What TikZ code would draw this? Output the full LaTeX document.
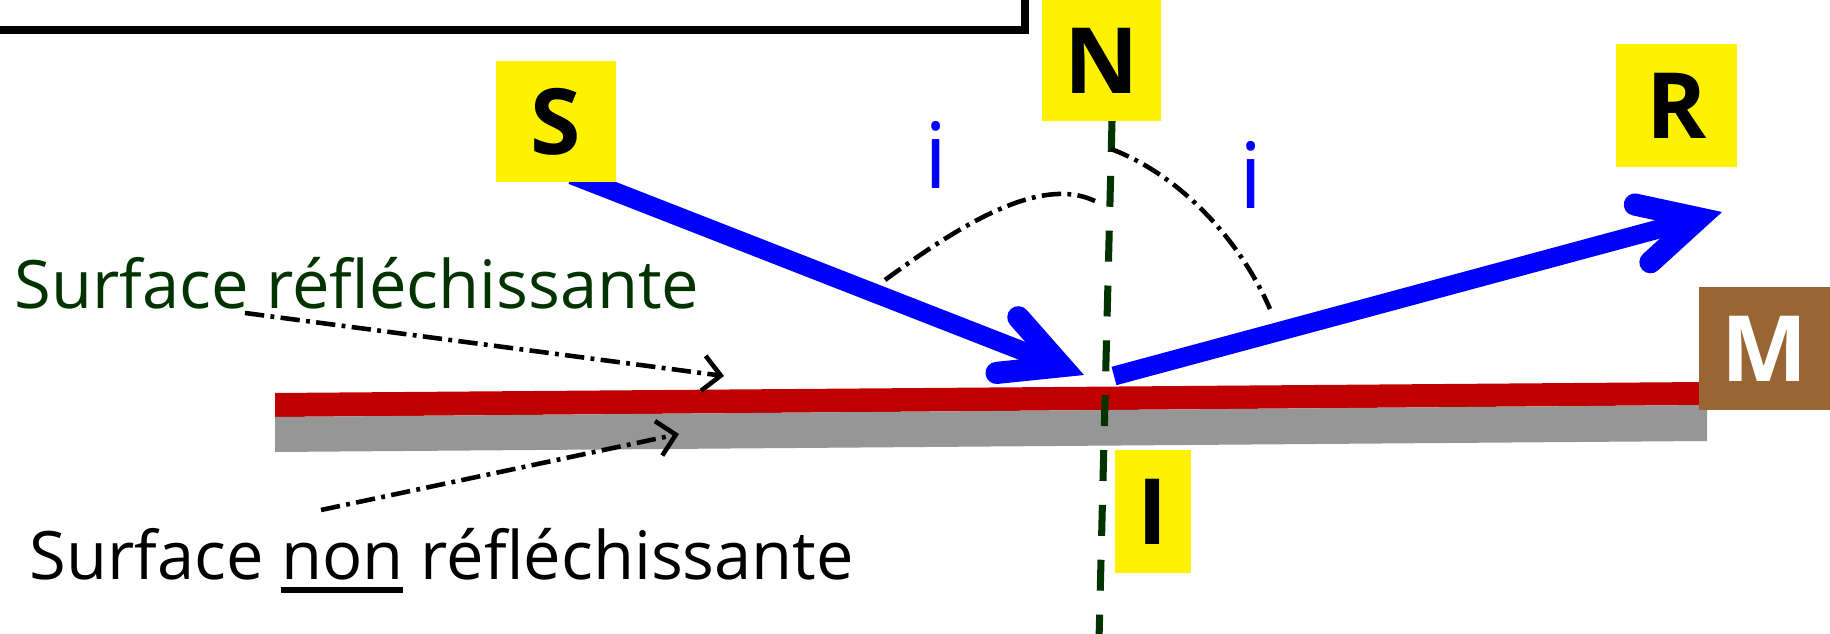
\documentclass[tikz,border=0pt]{standalone}
\usepackage{fontspec}
\setmainfont{Open Sans}
\usetikzlibrary{arrows.meta}
\definecolor{sombre}{RGB}{0,51,0}
\definecolor{miroir}{RGB}{192,0,0}
\definecolor{dos}{RGB}{150,150,150}
\definecolor{brun}{RGB}{153,102,51}
\newcommand\souligne[1]{\setbox0\hbox{#1}\rlap{\rule[-3.8pt]{\wd0}{1.7pt}}\box0\relax}
\tikzset{
  lettre/.style={fill=yellow, inner sep=0pt, font=\bfseries\fontsize{26}{26}\selectfont},
  rayon/.style={blue, line width=5.4pt, -{Straight Barb[length=16.5pt,width=17pt,line width=6.3pt,line cap=round,line join=miter]}},
  normale/.style={sombre, line width=2pt, dash pattern=on 8.8pt off 6.8pt},
  pointille/.style={line width=1.3pt, dash pattern=on 5.5pt off 1.8pt on 1.1pt off 1.8pt},
  pointe/.style={pointille, -{Straight Barb[length=5pt,width=10pt]}},
  texte/.style={anchor=base west, inner sep=0pt, font=\fontsize{19}{19}\selectfont}
}
\begin{document}
\begin{tikzpicture}[x=0.01cm,y=-0.01cm]
\useasboundingbox (0,0) rectangle (1830,634);
\draw[line width=2.3pt] (-30,-30) rectangle (1025,30);
\fill[miroir] (275,393) -- (1705,382) -- (1705,405) -- (275,417) -- cycle;
\fill[dos] (275,417) -- (1707,405) -- (1707,441) -- (275,452) -- cycle;
\coordinate (haut) at (1112,121);
\coordinate (bas) at (1099,640);
\draw[normale] (haut) -- (bas);
\coordinate (depart) at (572,175);
\coordinate (arrivee) at (1084,375);
\coordinate (retour) at (1114,376);
\coordinate (fin) at (1722,212);
\draw[rayon] (depart) -- (arrivee);
\draw[rayon] (retour) -- (fin);
\draw[pointille] (885,280) .. controls (960,225) and (1040,175) .. (1095,201);
\draw[pointille] (1111,149) .. controls (1180,175) and (1240,240) .. (1270,309);
\node[text=blue, font=\fontsize{26}{26}\selectfont] (i1) at (936,155) {i};
\node[text=blue, font=\fontsize{26}{26}\selectfont] (i2) at (1251,175) {i};
\node[lettre, minimum width=1.2cm, minimum height=1.21cm] (S) at (556,121.5) {S};
\node[lettre, minimum width=1.19cm, minimum height=1.21cm] (N) at (1101.5,60.5) {N};
\node[lettre, minimum width=1.21cm, minimum height=1.23cm] (R) at (1676.5,105.5) {R};
\node[lettre, minimum width=0.76cm, minimum height=1.23cm] (I) at (1153,511.5) {I};
\node[lettre, fill=brun, text=white, minimum width=1.31cm, minimum height=1.23cm] (M) at (1764.5,348.5) {M};
\node[texte, text=sombre] (refl) at (14,309) {Surface réfléchissante};
\node[texte] (nonrefl) at (29,580) {Surface \souligne{non} réfléchissante};
\coordinate (p1) at (245,313);
\coordinate (q1) at (724,376);
\coordinate (p2) at (321,510);
\coordinate (q2) at (679,434);
\draw[pointe] (p1) -- (q1);
\draw[pointe] (p2) -- (q2);
\end{tikzpicture}
\end{document}
